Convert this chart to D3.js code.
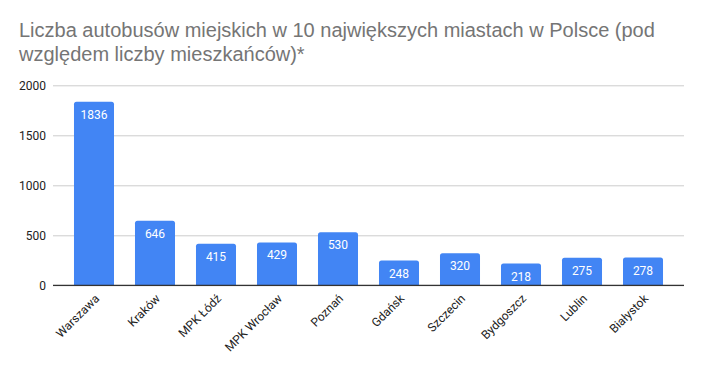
<!DOCTYPE html>
<html><head><meta charset="utf-8">
<script src="https://cdn.jsdelivr.net/npm/d3@7"></script>
<style>body{margin:0;background:#fff}svg{display:block}</style>
</head><body>
<svg id="c" width="703" height="369"></svg>
<script>
const titleLines = ["Liczba autobusów miejskich w 10 największych miastach w Polsce (pod", "względem liczby mieszkańców)*"];
const categories = ["Warszawa","Kraków","MPK Łódź","MPK Wrocław","Poznań","Gdańsk","Szczecin","Bydgoszcz","Lublin","Białystok"];
const values = [1836,646,415,429,530,248,320,218,275,278];
const yTicks = [0,500,1000,1500,2000];

const svg = d3.select("#c");
svg.append("rect").attr("width",703).attr("height",369).attr("fill","#fff");

const x = d3.scaleBand().domain(categories).range([53,684]).paddingInner(0.344).paddingOuter(0.344);
const y = d3.scaleLinear().domain([0,2000]).range([285.3,85.3]);

svg.append("g").selectAll("text").data(titleLines).join("text")
  .attr("x",19).attr("y",(d,i)=>37+i*24)
  .attr("font-family","Liberation Sans, Arial, sans-serif").attr("font-size",20)
  .attr("fill","#757575").text(d=>d);

// grid
const yAxis = d3.axisLeft(y).tickValues(yTicks).tickFormat(d3.format("d")).tickSize(-(684-53)).tickPadding(7);
const gy = svg.append("g").attr("transform","translate(53,0)").call(yAxis);
gy.select(".domain").remove();
gy.selectAll(".tick line").attr("stroke","#cccccc").attr("stroke-width",1);
gy.selectAll(".tick text").attr("font-family","Roboto, sans-serif").attr("font-size",12).attr("fill","#222").attr("dy","0.32em");

// bars with rounded tops
const r = 2.5;
svg.append("g").selectAll("path").data(values).join("path")
  .attr("fill","#4285F4")
  .attr("d",(d,i)=>{
    const x0 = x(categories[i]), w = x.bandwidth(), yt = y(d), yb = y(0);
    return `M${x0},${yb}V${yt+r}Q${x0},${yt} ${x0+r},${yt}H${x0+w-r}Q${x0+w},${yt} ${x0+w},${yt+r}V${yb}Z`;
  });

svg.append("g").selectAll("text").data(values).join("text")
  .attr("x",(d,i)=>x(categories[i])+x.bandwidth()/2)
  .attr("y",d=>y(d)+17)
  .attr("text-anchor","middle")
  .attr("font-family","Roboto, sans-serif").attr("font-size",12).attr("fill","#fff")
  .text(d=>d);

// baseline
svg.append("line").attr("x1",53).attr("x2",684).attr("y1",y(0)).attr("y2",y(0)).attr("stroke","#333").attr("stroke-width",1.3);

// x labels
const xAxis = d3.axisBottom(x).tickSize(0).tickPadding(0);
const gx = svg.append("g").attr("transform",`translate(0,${y(0)})`).call(xAxis);
gx.select(".domain").remove();
gx.selectAll(".tick text")
  .attr("font-family","Roboto, sans-serif").attr("font-size",12).attr("fill","#222")
  .attr("text-anchor","end").attr("dy",0).attr("y",0)
  .attr("transform","translate(6,14) rotate(-45)");
</script>
</body></html>
